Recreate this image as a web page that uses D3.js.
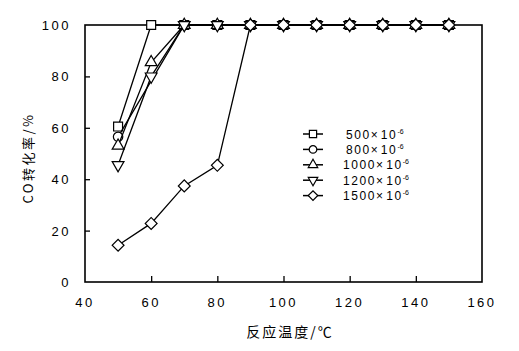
<!DOCTYPE html>
<html>
<head>
<meta charset="utf-8">
<script src="https://cdn.jsdelivr.net/npm/d3@7/dist/d3.min.js"></script>
<style>
  body { margin: 0; background: #fff; }
  text { font-family: "Liberation Sans", Arial, sans-serif; fill: #000; }
  .cjk { font-family: "Noto Sans CJK SC", sans-serif; }
</style>
</head>
<body>
<div id="chart"></div>
<script>
(function () {
    'use strict';

    // temperatures (°C)
    const temps = [50, 60, 70, 80, 90, 100, 110, 120, 130, 140, 150];

    const seriesNames = ["500", "800", "1000", "1200", "1500"];
    const symbols = ["square", "circle", "triangle", "triangleDown", "diamond"];

    const conv500 = [60.5, 100, 100, 100, 100, 100, 100, 100, 100, 100, 100];
    const conv800 = [56.5, null, 100, 100, 100, 100, 100, 100, 100, 100, 100];
    const conv1000 = [53, 85.5, 100, 100, 100, 100, 100, 100, 100, 100, 100];
    const conv1200 = [45.5, 80, 100, 100, 100, 100, 100, 100, 100, 100, 100];
    const conv1500 = [14.3, 22.8, 37.4, 45.4, 100, 100, 100, 100, 100, 100, 100];

    const allSeries = [conv500, conv800, conv1000, conv1200, conv1500];

    const xTicks = [40, 60, 80, 100, 120, 140, 160];
    const yTicks = [0, 20, 40, 60, 80, 100];

    const width = 519, height = 351;
    const margin = { left: 85, right: 37, top: 25, bottom: 69 };

    const svg = d3.select("#chart").append("svg")
        .attr("width", width)
        .attr("height", height);

    const x = d3.scaleLinear().domain([40, 160]).range([margin.left, width - margin.right]);
    const y = d3.scaleLinear().domain([0, 100]).range([height - margin.bottom, margin.top]);

    // frame
    svg.append("rect")
        .attr("x", x(40)).attr("y", y(100))
        .attr("width", x(160) - x(40)).attr("height", y(0) - y(100))
        .attr("fill", "none").attr("stroke", "#000").attr("stroke-width", 1.6);

    // inward ticks
    const xAxis = d3.axisTop(x).tickValues(xTicks.slice(1, -1)).tickSize(6).tickFormat("");
    svg.append("g").attr("transform", `translate(0,${y(0)})`).call(xAxis)
        .call(g => g.select(".domain").remove())
        .selectAll("line").attr("stroke-width", 1.3);

    const yAxis = d3.axisRight(y).tickValues(yTicks.slice(1, -1)).tickSize(5).tickFormat("");
    svg.append("g").attr("transform", `translate(${x(40)},0)`).call(yAxis)
        .call(g => g.select(".domain").remove())
        .selectAll("line").attr("stroke-width", 1.3);

    // tick labels
    svg.append("g").selectAll("text")
        .data(xTicks).enter().append("text")
        .attr("x", d => x(d))
        .attr("y", y(0) + 25)
        .attr("text-anchor", "middle")
        .attr("font-size", 13)
        .attr("letter-spacing", 2.5)
        .text(d => d);

    svg.append("g").selectAll("text")
        .data(yTicks).enter().append("text")
        .attr("x", x(40) - 14)
        .attr("y", d => y(d) + 5)
        .attr("text-anchor", "end")
        .attr("font-size", 13)
        .attr("letter-spacing", 2.5)
        .text(d => d);

    // axis titles
    svg.append("text")
        .attr("class", "cjk")
        .attr("x", 290)
        .attr("y", 337)
        .attr("text-anchor", "middle")
        .attr("font-size", 14)
        .attr("letter-spacing", 2)
        .text("反应温度/℃");

    svg.append("text")
        .attr("class", "cjk")
        .attr("transform", `translate(33,158) rotate(-90)`)
        .attr("text-anchor", "middle")
        .attr("font-size", 13)
        .attr("letter-spacing", 2.5)
        .text("CO转化率/%");

    const symType = {
        square: d3.symbolSquare,
        circle: d3.symbolCircle,
        triangle: d3.symbolTriangle,
        triangleDown: d3.symbolTriangle,
        diamond: d3.symbolSquare
    };
    const symSize = { square: 80, circle: 70, triangle: 60, triangleDown: 60, diamond: 70 };
    const symRot = { square: 0, circle: 0, triangle: 0, triangleDown: 180, diamond: 45 };

    function drawSymbol(g, kind, cx, cy, scale) {
        g.append("path")
            .attr("d", d3.symbol().type(symType[kind]).size(symSize[kind] * (scale || 1))())
            .attr("transform", `translate(${cx},${cy}) rotate(${symRot[kind]})`)
            .attr("fill", "#fff")
            .attr("stroke", "#000")
            .attr("stroke-width", 1.2);
    }

    const line = d3.line()
        .x(d => x(d[0]))
        .y(d => y(d[1]));

    allSeries.forEach((vals, i) => {
        const pts = temps.map((t, j) => [t, vals[j]]).filter(d => d[1] != null);
        const g = svg.append("g");
        g.append("path")
            .datum(pts)
            .attr("d", line)
            .attr("fill", "none")
            .attr("stroke", "#000")
            .attr("stroke-width", 1.3);
        pts.forEach(p => drawSymbol(g, symbols[i], x(p[0]), y(p[1])));
    });

    // legend
    const lg = svg.append("g");
    seriesNames.forEach((name, i) => {
        const ly = 134 + i * 15.4;
        lg.append("line")
            .attr("x1", 303).attr("x2", 323)
            .attr("y1", ly).attr("y2", ly)
            .attr("stroke", "#000").attr("stroke-width", 1.5);
        drawSymbol(lg, symbols[i], 313, ly, 0.65);
        const t = lg.append("text")
            .attr("x", name.length > 3 ? 343 : 346)
            .attr("y", ly + 4.5)
            .attr("font-size", 12)
            .attr("letter-spacing", 1.6);
        t.append("tspan").text(name);
        t.append("tspan").attr("letter-spacing", 3).text("×");
        t.append("tspan").text("10");
        t.append("tspan").attr("dy", -5).attr("font-size", 7).attr("letter-spacing", 0).text("-6");
    });
})();
</script>
</body>
</html>
